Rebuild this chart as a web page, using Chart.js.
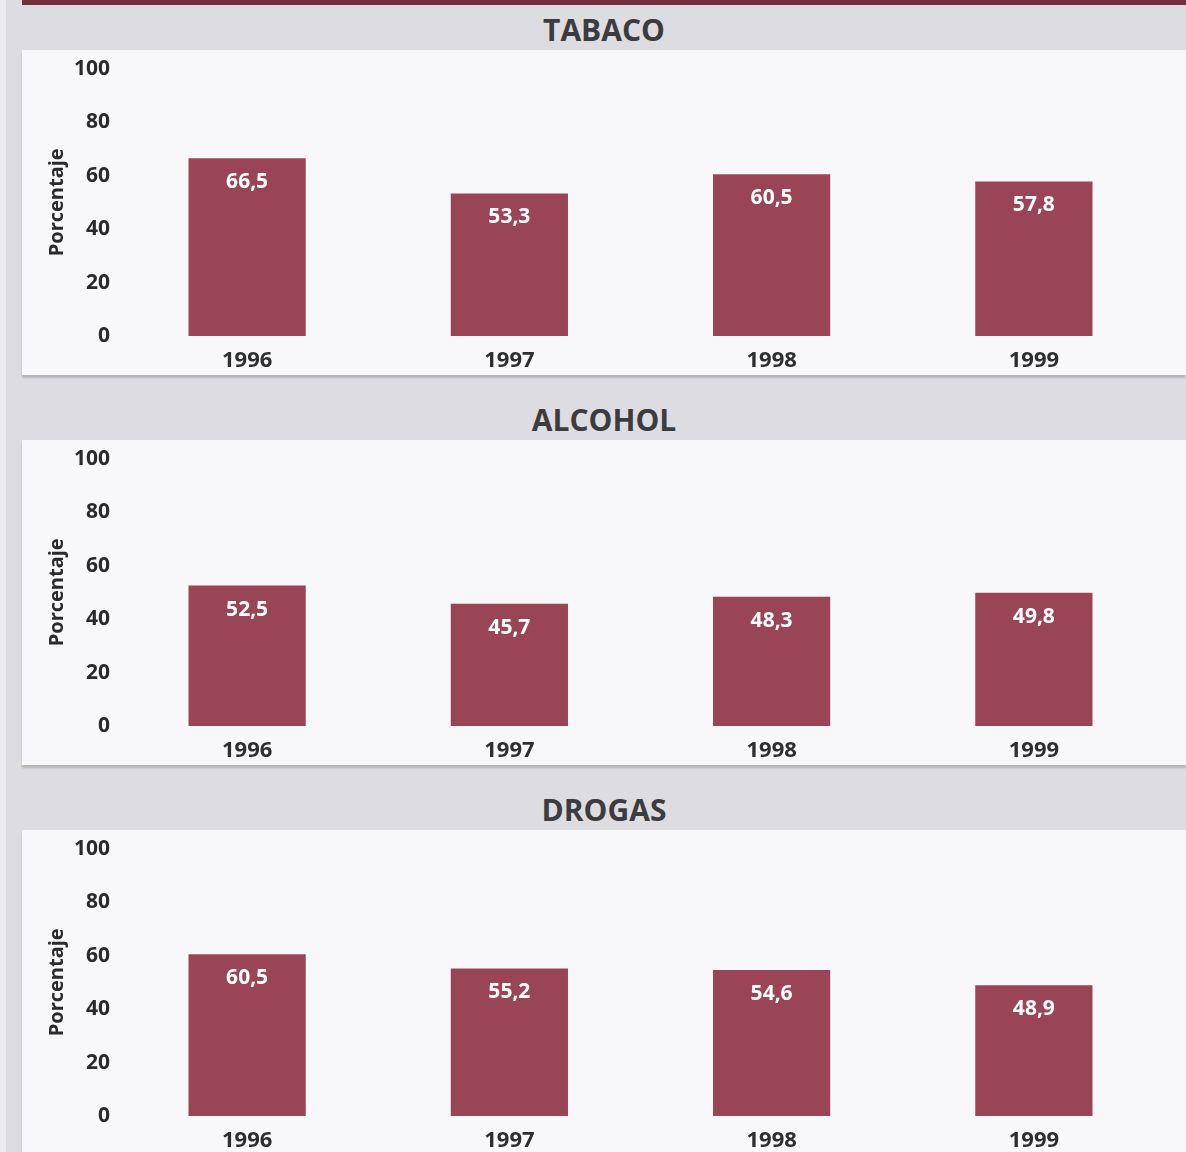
<!DOCTYPE html>
<html lang="es">
<head>
<meta charset="utf-8">
<title>Consumo de tabaco, alcohol y drogas 1996-1999</title>
<script src="https://cdn.jsdelivr.net/npm/chart.js@4/dist/chart.umd.min.js"></script>
<style>
  html, body { margin: 0; padding: 0; }
  body {
    width: 1186px; height: 1152px; position: relative; overflow: hidden;
    background: #dcdce1;
    font-family: "Open Sans", "Noto Sans", sans-serif;
  }
  .edge { position: absolute; left: 0; top: 0; width: 6px; height: 1152px; background: #ececf0; }
  .topbar { position: absolute; left: 22px; top: 0; width: 1164px; height: 5px; background: #74303d; }
  .heading {
    position: absolute; left: 22px; width: 1164px; text-align: center;
    font-weight: 700; font-size: 30px; color: #3c3c3e; line-height: 36px;
  }
  .panel {
    position: absolute; left: 22px; width: 1164px; height: 325px;
    background: #f8f8fb; box-shadow: 0 3px 2px rgba(0, 0, 0, 0.18);
  }
  .panel canvas { display: block; }
</style>
</head>
<body>
<div class="edge"></div>
<div class="topbar"></div>

<div class="heading" style="top: 12px;">TABACO</div>
<div class="panel" style="top: 50px;"><canvas id="tabaco" width="1164" height="325"></canvas></div>

<div class="heading" style="top: 402px;">ALCOHOL</div>
<div class="panel" style="top: 440px;"><canvas id="alcohol" width="1164" height="325"></canvas></div>

<div class="heading" style="top: 792px;">DROGAS</div>
<div class="panel" style="top: 830px; height: 322px;"><canvas id="drogas" width="1164" height="325"></canvas></div>

<script>
const years = ['1996', '1997', '1998', '1999'];
const tabaco = [66.5, 53.3, 60.5, 57.8];
const alcohol = [52.5, 45.7, 48.3, 49.8];
const drogas = [60.5, 55.2, 54.6, 48.9];
const yTicks = [0, 20, 40, 60, 80, 100];

const barColor = '#9a4556';
const font = '"Open Sans", "Noto Sans", sans-serif';

// white value label just below the top of each bar, decimal comma
const valueLabels = {
    id: 'valueLabels',
    afterDatasetsDraw(chart) {
        const ctx = chart.ctx;
        const meta = chart.getDatasetMeta(0);
        const values = chart.data.datasets[0].data;
        ctx.save();
        ctx.fillStyle = '#ffffff';
        ctx.font = 'bold 21px ' + font;
        ctx.textAlign = 'center';
        ctx.textBaseline = 'middle';
        meta.data.forEach((bar, i) => {
            ctx.fillText(values[i].toFixed(1).replace('.', ','), bar.x, bar.y + 24);
        });
        ctx.restore();
    }
};

function drawPanel(id, values) {
    const ctx = document.getElementById(id).getContext('2d');
    return new Chart(ctx, {
        type: 'bar',
        data: {
            labels: years,
            datasets: [{
                data: values,
                backgroundColor: barColor,
                borderWidth: 0,
                categoryPercentage: 1,
                barPercentage: 0.447
            }]
        },
        options: {
            responsive: false,
            animation: false,
            layout: { padding: { top: 17, right: 21, bottom: 0, left: 0 } },
            plugins: { legend: { display: false }, tooltip: { enabled: false } },
            scales: {
                x: {
                    grid: { display: false, drawTicks: false },
                    border: { display: false },
                    ticks: { color: '#2e2e30', padding: 12, font: { family: font, size: 22, weight: 'bold' } },
                    afterFit(scale) { scale.height = 39; }
                },
                y: {
                    min: 0,
                    max: 100,
                    afterBuildTicks(scale) { scale.ticks = yTicks.map(v => ({ value: v })); },
                    grid: { display: false, drawTicks: false },
                    border: { display: false },
                    ticks: { color: '#2a2a2c', padding: 6, font: { family: font, size: 21, weight: 'bold' } },
                    title: {
                        display: true,
                        text: 'Porcentaje',
                        color: '#2a2a2c',
                        padding: { top: 23, bottom: 4 },
                        font: { family: font, size: 20, weight: 'bold' }
                    },
                    afterFit(scale) { scale.width = 94; }
                }
            }
        },
        plugins: [valueLabels]
    });
}

drawPanel('tabaco', tabaco);
drawPanel('alcohol', alcohol);
drawPanel('drogas', drogas);
</script>
</body>
</html>
